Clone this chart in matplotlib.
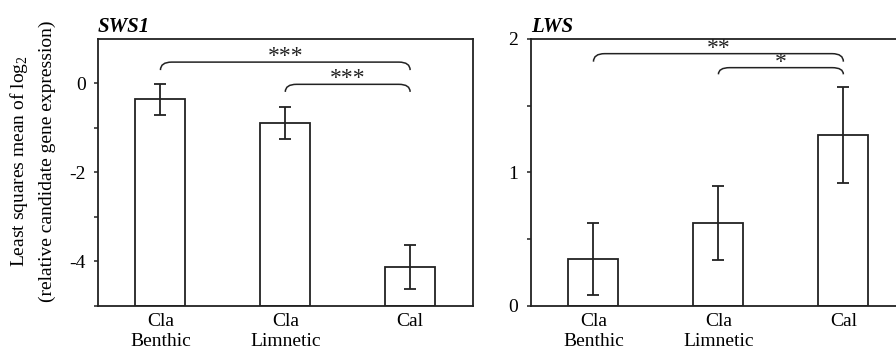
import numpy as np
import matplotlib
matplotlib.use("Agg")
import matplotlib.pyplot as plt
from matplotlib.path import Path
from matplotlib.patches import PathPatch
from matplotlib.transforms import offset_copy

plt.rcParams['font.family'] = ['Liberation Serif', 'DejaVu Serif']
plt.rcParams['mathtext.fontset'] = 'custom'
plt.rcParams['mathtext.rm'] = 'Liberation Serif'

categories = ["Cla\nBenthic", "Cla\nLimnetic", "Cal"]

sws1_mean = [-0.36, -0.89, -4.13]
sws1_err = [0.34, 0.36, 0.49]
lws_mean = [0.35, 0.62, 1.28]
lws_err = [0.27, 0.28, 0.36]

# brackets: (from, to, top y, drop, label)
sws1_sig = [(0, 2, 0.48, 0.18, "***"), (1, 2, -0.02, 0.17, "***")]
lws_sig = [(0, 2, 1.89, 0.06, "**"), (1, 2, 1.785, 0.05, "*")]

ink = "#222222"


def bracket(ax, x0, x1, y, drop, label, rx=0.09):
    verts = [(x0, y - drop), (x0, y), (x0 + rx, y),
             (x1 - rx, y), (x1, y), (x1, y - drop)]
    codes = [Path.MOVETO, Path.CURVE3, Path.CURVE3,
             Path.LINETO, Path.CURVE3, Path.CURVE3]
    ax.add_patch(PathPatch(Path(verts, codes), fill=False, lw=1.1,
                           edgecolor=ink, clip_on=False))
    tr = offset_copy(ax.transData, fig=ax.figure, x=0, y=4, units="points")
    ax.text((x0 + x1) / 2, y, label, ha="center", va="center",
            fontsize=17, color=ink, transform=tr)


def panel(ax, means, errs, sig, ylim, major, minor, title):
    x = np.arange(len(means))
    base = ylim[0]
    heights = [m - base for m in means]
    ax.bar(x, heights, bottom=base, width=0.4, color="white",
           edgecolor=ink, lw=1.3)
    ax.errorbar(x, means, yerr=errs, fmt="none", ecolor=ink,
                elinewidth=1.3, capsize=4, capthick=1.3)
    ax.set_xlim(-0.5, 2.5)
    ax.set_ylim(*ylim)
    ax.set_xticks(x)
    ax.set_xticklabels(categories, fontsize=14, linespacing=1.25)
    ax.tick_params(axis="x", length=0, pad=5)
    ax.set_yticks(minor, minor=True)
    ax.set_yticks(major)
    ax.set_yticklabels([f"{v:g}" for v in major], fontsize=14)
    ax.tick_params(axis="y", which="both", direction="out", length=3,
                   width=1.1, color=ink, pad=6)
    for s in ax.spines.values():
        s.set_linewidth(1.3)
        s.set_color(ink)
    for a, b, y, d, lab in sig:
        bracket(ax, a, b, y, d, lab)
    ax.set_title(title, loc="left", fontsize=15, fontweight="bold",
                 fontstyle="italic", pad=5)


fig = plt.figure(figsize=(8.96, 3.5), dpi=100)
ax1 = fig.add_axes([0.1094, 0.1266, 0.4180, 0.762])
ax2 = fig.add_axes([0.5926, 0.1266, 0.4184, 0.762])

panel(ax1, sws1_mean, sws1_err, sws1_sig, (-5, 1), [0, -2, -4],
      [-1, -3, -5], "SWS1")
panel(ax2, lws_mean, lws_err, lws_sig, (0, 2), [0, 1, 2],
      [0.5, 1.5], "LWS")

fig.text(0.021, 0.54, "Least squares mean of log$_2$", rotation=90,
         ha="center", va="center", fontsize=14)
fig.text(0.053, 0.54, "(relative candidate gene expression)", rotation=90,
         ha="center", va="center", fontsize=14)

fig.savefig("out.png", dpi=100)
